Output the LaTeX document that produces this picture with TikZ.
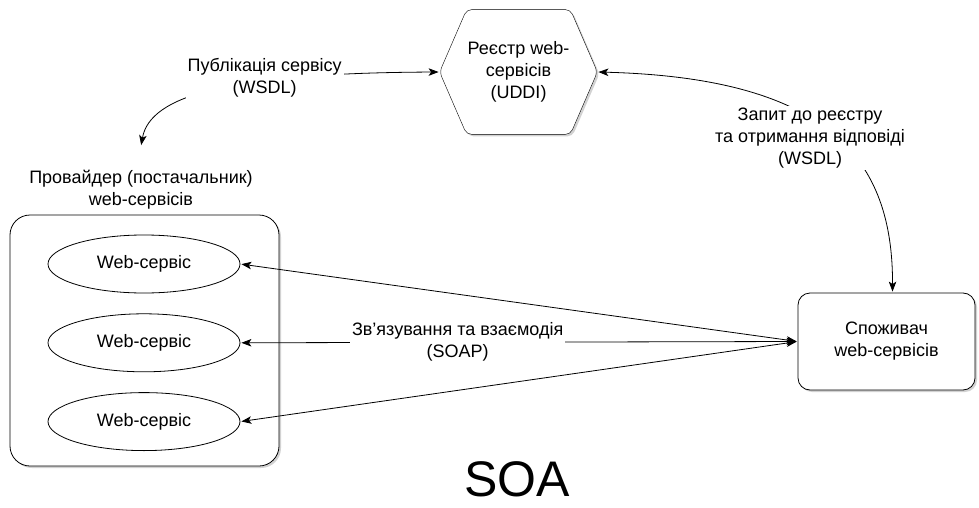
\documentclass[tikz,border=0pt]{standalone}
\usepackage{fontspec}
\setmainfont{Liberation Sans}
\usetikzlibrary{arrows.meta,backgrounds,positioning,shadows,shapes.geometric}
\tikzset{>={Stealth[length=10pt,width=7.5pt,inset=2.5pt]},shorten >=1pt,shorten <=1pt}

\begin{document}
\begin{tikzpicture}[x=1pt,y=-1pt,line width=0.8pt]
	\tikzset{every node/.style={font=\fontsize{18}{22}\selectfont,align=center}}
	\tikzset{boxshadow/.style={drop shadow={shadow xshift=2pt,shadow yshift=-2pt,fill=black!35}}}
	\tikzset{provbox/.style={draw,rounded corners=20pt,minimum width=269pt,minimum height=251pt,fill=white,boxshadow}}
	\tikzset{svc/.style={draw,ellipse,minimum width=192pt,minimum height=58pt,inner sep=0pt,fill=white}}
	\tikzset{consbox/.style={draw,rounded corners=12pt,minimum width=177pt,minimum height=97pt,fill=white,boxshadow}}
	\tikzset{regshape/.style={minimum width=157pt,minimum height=124pt,inner sep=0pt}}
	\tikzset{lbl/.style={fill=white,inner sep=2pt}}
	\useasboundingbox (0,0) rectangle (979,508);
	% provider with its services
	\node[provbox] (prov) at (144.5,340.5) {};
	\node[outer ysep=21pt] (provlbl) at (141,190) {Провайдер (постачальник)\\web-сервісів};
	\node[svc] (ws1) at (144,264) {Web-сервіс};
	\node[svc] (ws2) [below=20pt of ws1] {Web-сервіс};
	\node[svc] (ws3) [below=20pt of ws2] {Web-сервіс};
	% registry
	\node[regshape] (reg) at (518.5,72) {Реєстр web-\\сервісів\\(UDDI)};
	\begin{scope}[on background layer]
		\draw[rounded corners=5pt,fill=white,boxshadow] (reg.west) -- ([xshift=27pt]reg.north west) -- ([xshift=-27pt]reg.north east)
			-- (reg.east) -- ([xshift=-27pt]reg.south east) -- ([xshift=27pt]reg.south west) -- cycle;
	\end{scope}
	% consumer
	\node[consbox] (cons) at (886.5,341.5) {Споживач\\web-сервісів};
	\node[font=\fontsize{50}{50}\selectfont,inner sep=0pt] (soa) at (517,479) {SOA};
	\draw[<->] (reg.west) .. controls (230,73) and (150,95) .. node[lbl,pos=0.35,yshift=3pt] {Публікація сервісу\\(WSDL)} (provlbl.north);
	\draw[<->] (reg.east) .. controls (830,78) and (893,160) .. node[lbl,pos=0.45,xshift=-8pt,yshift=-14pt] {Запит до реєстру\\та отримання відповіді\\(WSDL)} ([xshift=6pt]cons.north);
	\draw[<->] (cons.west) -- (ws1.east);
	\draw[<->] (cons.west) -- node[lbl,pos=0.61] {Зв'язування та взаємодія\\(SOAP)} (ws2.east);
	\draw[<->] (cons.west) -- (ws3.east);
\end{tikzpicture}
\end{document}
